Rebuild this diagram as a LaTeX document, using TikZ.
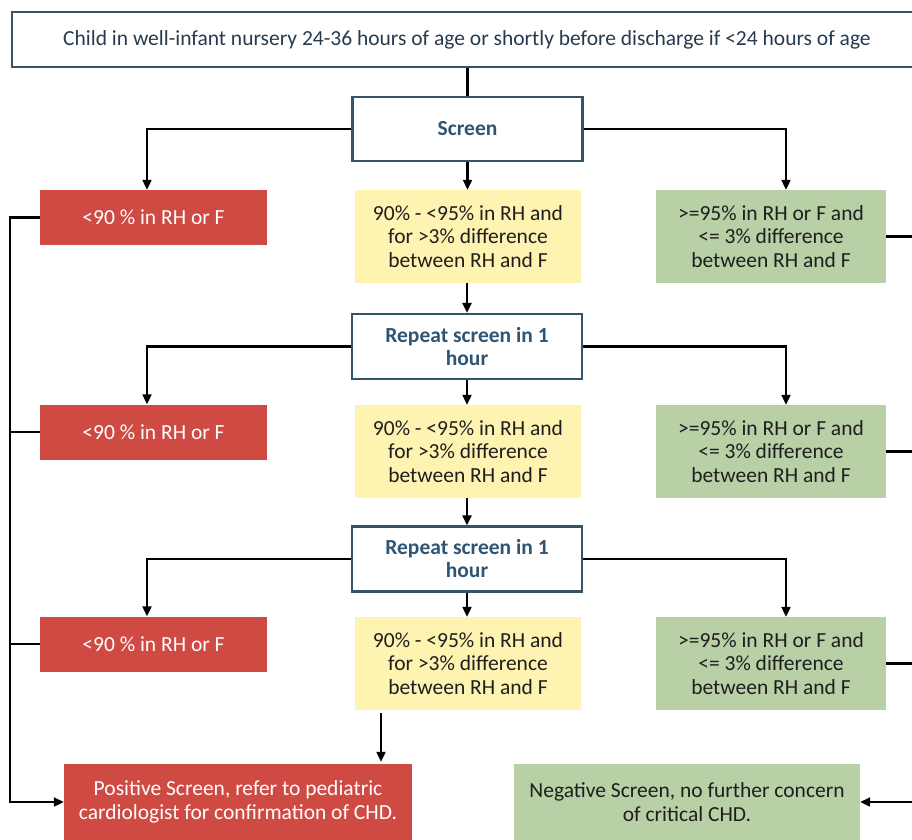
\documentclass[tikz,border=0pt]{standalone}
\usepackage{fontspec}
\setmainfont{Carlito}
\usetikzlibrary{arrows.meta}
\definecolor{redbox}{HTML}{CF4A42}
\definecolor{yelbox}{HTML}{FFF3B2}
\definecolor{grnbox}{HTML}{B9D0A7}
\definecolor{border}{HTML}{34546B}
\definecolor{bluetext}{HTML}{2F5574}
\definecolor{toptext}{HTML}{263B4E}
\definecolor{textdark}{HTML}{1E1E1E}
\begin{document}
\begin{tikzpicture}[x=1pt,y=-1pt,
  box/.style={inner sep=0pt, align=center, font=\fontsize{21.5}{23.5}\selectfont},
  outl/.style={box, draw=border, line width=2.2pt, fill=white},
  redb/.style={box, fill=redbox, text=white},
  yelb/.style={box, fill=yelbox, text=textdark, minimum width=226pt, minimum height=93pt},
  grnb/.style={box, fill=grnbox, text=textdark, minimum width=230pt, minimum height=93pt},
  redsmall/.style={redb, minimum width=227pt, minimum height=55pt},
  rep/.style={outl, text=bluetext, minimum width=230pt, minimum height=65pt, font=\fontsize{21.5}{23}\selectfont\bfseries},
  conn/.style={line width=2.1pt, black},
  arr/.style={conn, -{Triangle[length=10pt,width=9pt]}}]
\clip (0,0) rectangle (912,839);
\fill[white] (0,0) rectangle (912,839);

% nodes
\node[outl, text=toptext, minimum width=910pt, minimum height=55pt] (top) at (467,39.5)
  {Child in well-infant nursery 24-36 hours of age or shortly before discharge if <24 hours of age};
\node[rep, minimum height=64pt] (s0) at (467.5,129) {Screen};

\node[redsmall] (r1) at (153.5,217.5) {<90 \% in RH or F};
\node[yelb] (y1) at (468,236.5) {90\% - <95\% in RH and\\for >3\% difference\\between RH and F};
\node[grnb] (g1) at (771,236.5) {>=95\% in RH or F and\\<= 3\% difference\\between RH and F};

\node[rep] (s1) at (467,346.5) {Repeat screen in 1\\hour};

\node[redsmall] (r2) at (153.5,432) {<90 \% in RH or F};
\node[yelb] (y2) at (468,451.5) {90\% - <95\% in RH and\\for >3\% difference\\between RH and F};
\node[grnb] (g2) at (771,451.5) {>=95\% in RH or F and\\<= 3\% difference\\between RH and F};

\node[rep] (s2) at (467,559) {Repeat screen in 1\\hour};

\node[redsmall] (r3) at (153.5,644) {<90 \% in RH or F};
\node[yelb] (y3) at (468,663.5) {90\% - <95\% in RH and\\for >3\% difference\\between RH and F};
\node[grnb] (g3) at (771,663.5) {>=95\% in RH or F and\\<= 3\% difference\\between RH and F};

\node[redb, minimum width=348pt, minimum height=76pt] (pos) at (238,802)
  {Positive Screen, refer to pediatric\\cardiologist for confirmation of CHD.};
\node[grnb, minimum width=346pt, minimum height=76pt] (neg) at (687,802)
  {Negative Screen, no further concern\\of critical CHD.};

% guide coordinates
\coordinate (lx) at (147,0);
\coordinate (rx) at (786,0);
\coordinate (lt) at (10,0);
\coordinate (rt) at (930,0);
\coordinate (yx) at (381,0);

% connectors
\draw[conn] (top.south -| s0.north) -- (s0.north);
\draw[arr] (s0.west) -| (lx |- r1.north);
\draw[arr] (s0.east) -| (rx |- g1.north);
\draw[arr] (s0.south) -- (s0.south |- y1.north);
\draw[arr] (y1.south -| s1.north) -- (s1.north);

\draw[arr] (s1.west) -| (lx |- r2.north);
\draw[arr] (s1.east) -| (rx |- g2.north);
\draw[arr] (s1.south) -- (s1.south |- y2.north);
\draw[arr] (y2.south -| s2.north) -- (s2.north);

\draw[arr] (s2.west) -| (lx |- r3.north);
\draw[arr] (s2.east) -| (rx |- g3.north);
\draw[arr] (s2.south) -- (s2.south |- y3.north);

\draw[arr, shorten <=3pt, shorten >=2pt] (yx |- y3.south) -- (yx |- pos.north);

\draw[arr] (r1.west) -- (lt |- r1.west) -- (lt |- pos.west) -- (pos.west);
\draw[conn] (r2.west) -- (lt |- r2.west);
\draw[conn] (r3.west) -- (lt |- r3.west);

\draw[arr] (g1.east) -- (rt |- g1.east) -- (rt |- neg.east) -- (neg.east);
\draw[conn] (g2.east) -- (rt |- g2.east);
\draw[conn] (g3.east) -- (rt |- g3.east);
\end{tikzpicture}
\end{document}
